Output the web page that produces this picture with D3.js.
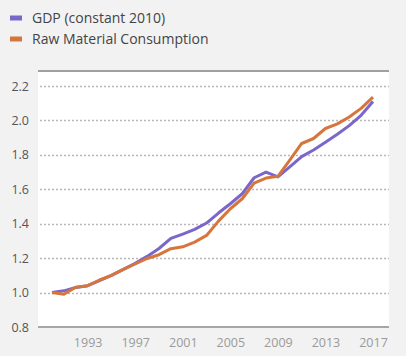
<!DOCTYPE html>
<html>
<head>
<meta charset="utf-8">
<script src="https://cdn.jsdelivr.net/npm/d3@7"></script>
<style>
html,body{margin:0;padding:0;background:#f2f2f2;}
svg{display:block;font-family:"Open Sans",sans-serif;}
</style>
</head>
<body>
<svg id="chart" width="406" height="356"></svg>
<script>
const years = d3.range(1990, 2018);
const gdp = [1.00,1.01,1.03,1.04,1.07,1.10,1.135,1.17,1.21,1.256,1.315,1.34,1.367,1.404,1.462,1.516,1.574,1.667,1.70,1.672,1.73,1.79,1.828,1.873,1.92,1.97,2.03,2.11];
const rmc = [1.00,0.99,1.031,1.04,1.073,1.10,1.135,1.166,1.198,1.22,1.255,1.266,1.293,1.332,1.415,1.487,1.545,1.636,1.665,1.675,1.77,1.866,1.895,1.953,1.98,2.02,2.07,2.135];
const seriesNames = ["GDP (constant 2010)", "Raw Material Consumption"];
const seriesColors = ["#7b66c9", "#d6763c"];
const yTicks = [0.8,1.0,1.2,1.4,1.6,1.8,2.0,2.2];
const xTicks = [1993,1997,2001,2005,2009,2013,2017];

const svg = d3.select("#chart");
const plot = {left:38, right:389, top:70, bottom:327};

const x = d3.scaleLinear().domain([1990, 2017]).range([52, 373]);
const y = d3.scaleLinear().domain([0.8, 2.2]).range([327, 86]);

svg.append("rect").attr("x", plot.left).attr("y", plot.top)
  .attr("width", plot.right - plot.left).attr("height", plot.bottom - plot.top)
  .attr("fill", "#ffffff");

// gridlines
svg.append("g").selectAll("line").data(yTicks.filter(d => d > 0.8)).join("line")
  .attr("x1", plot.left + 2).attr("x2", plot.right)
  .attr("y1", d => Math.round(y(d)) + 0.5).attr("y2", d => Math.round(y(d)) + 0.5)
  .attr("stroke", "#b8b8b8").attr("stroke-width", 1.5).attr("stroke-dasharray", "2,2");

// top border line
svg.append("line").attr("x1", plot.left).attr("x2", plot.right)
  .attr("y1", plot.top + 1).attr("y2", plot.top + 1)
  .attr("stroke", "#a0a0a0").attr("stroke-width", 2);

// y axis labels
const yAxis = d3.axisLeft(y).tickValues(yTicks).tickFormat(d3.format(".1f")).tickSize(0).tickPadding(0);
const gy = svg.append("g").attr("transform", "translate(29,0)").call(yAxis);
gy.select(".domain").remove();
gy.selectAll("text").attr("fill", "#555").style("font-size", "12.5px").style("font-family", "'Open Sans',sans-serif");

// x axis
const xAxis = d3.axisBottom(x).tickValues(xTicks).tickFormat(d3.format("d")).tickSize(0).tickPadding(0);
const gx = svg.append("g").attr("transform", "translate(0,338)").call(xAxis);
gx.select(".domain").remove();
gx.selectAll("text").attr("fill", "#9a9a9a").style("font-size", "12.5px").style("font-family", "'Open Sans',sans-serif");

// lines
const line = d3.line().x((d, i) => x(years[i])).y(d => y(d));
[gdp, rmc].forEach((s, i) => {
  svg.append("path").datum(s).attr("d", line)
    .attr("fill", "none").attr("stroke", seriesColors[i])
    .attr("stroke-width", 3).attr("stroke-linejoin", "round");
});

// bottom axis line
svg.append("line").attr("x1", plot.left).attr("x2", plot.right)
  .attr("y1", plot.bottom).attr("y2", plot.bottom)
  .attr("stroke", "#a6a6a6").attr("stroke-width", 2);

// legend
const leg = svg.append("g");
seriesNames.forEach((n, i) => {
  const cy = 18 + i * 21;
  leg.append("rect").attr("x", 10).attr("y", cy - 2.5).attr("width", 12).attr("height", 5)
    .attr("fill", seriesColors[i]);
  leg.append("text").attr("x", 32).attr("y", cy).attr("dy", "0.35em")
    .attr("fill", "#444").style("font-size", "14px").text(n);
});
</script>
</body>
</html>
